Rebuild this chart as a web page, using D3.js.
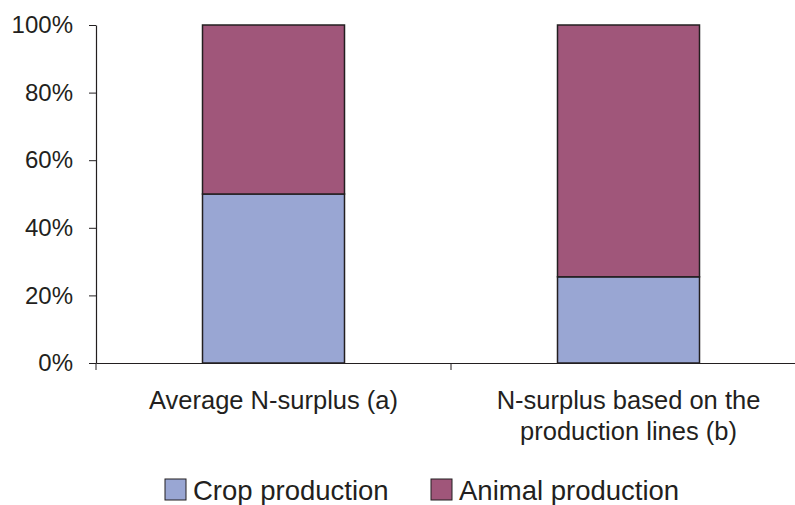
<!DOCTYPE html>
<html lang="en">
<head>
<meta charset="UTF-8">
<title>N-surplus shares</title>
<script src="https://d3js.org/d3.v7.min.js"></script>
<style>
    body { margin: 0; background: #fff; }
    svg { display: block; font-family: "Liberation Sans", Arial, sans-serif; }
</style>
</head>
<body>
<svg id="chart" width="795" height="505"></svg>
<script>
    // data
    const categories = ["Average N-surplus (a)", "N-surplus based on the\nproduction lines (b)"];
    const cropShare = [50, 25.5];
    const animalShare = [50, 74.5];
    const seriesNames = ["Crop production", "Animal production"];
    const seriesColors = ["#99a6d3", "#a0567a"];
    const yTicks = [0, 20, 40, 60, 80, 100];

    const svg = d3.select("#chart");
    const plotLeft = 96, plotRight = 806, plotTop = 25, plotBottom = 363;

    const x = d3.scaleBand().domain(categories).range([plotLeft, plotRight]).paddingInner(0).paddingOuter(0);
    const y = d3.scaleLinear().domain([0, 100]).range([plotBottom, plotTop]);

    const rows = categories.map((c, i) => ({ cat: c, crop: cropShare[i], animal: animalShare[i] }));
    const stack = d3.stack().keys(["crop", "animal"])(rows);

    const barW = x.bandwidth() * 0.4;
    stack.forEach((layer, li) => {
        svg.append("g").selectAll("rect")
            .data(layer)
            .enter()
            .append("rect")
            .attr("x", d => x(d.data.cat) + (x.bandwidth() - barW) / 2)
            .attr("y", d => y(d[1]))
            .attr("width", barW)
            .attr("height", d => y(d[0]) - y(d[1]))
            .style("fill", seriesColors[li])
            .style("stroke", "#231f20")
            .style("stroke-width", 1.5);
    });

    // y axis
    const yAxis = svg.append("g")
        .attr("transform", `translate(${plotLeft},0)`)
        .call(d3.axisLeft(y).tickValues(yTicks).tickFormat(d => d + "%").tickSize(7).tickSizeOuter(0));
    yAxis.select(".domain").attr("stroke", "#231f20").attr("stroke-width", 1.2);
    yAxis.selectAll(".tick line").attr("stroke", "#231f20");
    yAxis.selectAll(".tick text")
        .attr("x", -23)
        .style("font-size", "24px")
        .style("fill", "#231f20")
        .style("font-family", "Liberation Sans, Arial, sans-serif");

    // x axis
    const xAxis = svg.append("g")
        .attr("transform", `translate(0,${plotBottom})`)
        .call(d3.axisBottom(x).tickSize(0).tickFormat(""));
    xAxis.select(".domain").attr("stroke", "#231f20").attr("stroke-width", 1.2);
    // category boundary ticks
    svg.append("g").selectAll("line")
        .data(categories)
        .enter()
        .append("line")
        .attr("x1", d => x(d))
        .attr("x2", d => x(d))
        .attr("y1", plotBottom)
        .attr("y2", plotBottom + 7)
        .attr("stroke", "#231f20");

    // category labels
    const labels = svg.append("g").selectAll("text")
        .data(categories)
        .enter()
        .append("text")
        .attr("text-anchor", "middle")
        .attr("x", d => x(d) + x.bandwidth() / 2)
        .attr("y", 409)
        .style("font-size", "25.5px")
        .style("fill", "#231f20");
    labels.each(function(d) {
        const t = d3.select(this);
        d.split("\n").forEach((line, i) => {
            t.append("tspan")
                .attr("x", x(d) + x.bandwidth() / 2)
                .attr("dy", i === 0 ? 0 : 31)
                .text(line);
        });
    });

    // legend
    const legendX = [165, 431];
    const legend = svg.append("g").selectAll("g")
        .data(seriesNames)
        .enter()
        .append("g")
        .attr("transform", (d, i) => `translate(${legendX[i]},479)`);
    legend.append("rect")
        .attr("width", 21)
        .attr("height", 21)
        .style("fill", (d, i) => seriesColors[i])
        .style("stroke", "#231f20")
        .style("stroke-width", 1);
    legend.append("text")
        .attr("x", 28)
        .attr("y", 21)
        .style("font-size", "27.5px")
        .style("fill", "#231f20")
        .text(d => d);
</script>
</body>
</html>
